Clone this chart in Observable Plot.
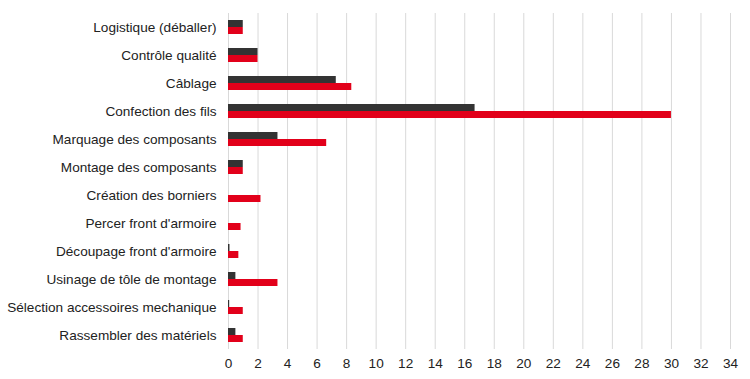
<!DOCTYPE html>
<html>
<head>
<meta charset="utf-8">
<script src="https://cdn.jsdelivr.net/npm/d3@7"></script>
<script src="https://cdn.jsdelivr.net/npm/@observablehq/plot@0.6"></script>
<style>
  html, body { margin: 0; padding: 0; background: #fff; }
  #chart svg { display: block; }
</style>
</head>
<body>
<div id="chart"></div>
<script>
const categories = [
  "Logistique (déballer)",
  "Contrôle qualité",
  "Câblage",
  "Confection des fils",
  "Marquage des composants",
  "Montage des composants",
  "Création des borniers",
  "Percer front d'armoire",
  "Découpage front d'armoire",
  "Usinage de tôle de montage",
  "Sélection accessoires mechanique",
  "Rassembler des matériels"
];
const seriesDark = [1, 2, 7.3, 16.7, 3.35, 1, 0, 0, 0.1, 0.5, 0.08, 0.5];
const seriesRed  = [1, 2, 8.35, 30, 6.65, 1, 2.2, 0.85, 0.7, 3.35, 1, 1];
const xTicks = [0, 2, 4, 6, 8, 10, 12, 14, 16, 18, 20, 22, 24, 26, 28, 30, 32, 34];

const darkData = categories.map((c, i) => ({category: c, value: seriesDark[i]}));
const redData = categories.map((c, i) => ({category: c, value: seriesRed[i]}));

const chart = Plot.plot({
  width: 750,
  height: 379,
  marginLeft: 228,
  marginRight: 20,
  marginTop: 13,
  marginBottom: 30,
  style: {fontFamily: "'Liberation Sans', Arial, sans-serif", fontSize: "13.6px", color: "#222"},
  x: {domain: [0, 34]},
  y: {domain: categories, padding: 0},
  marks: [
    Plot.gridX(xTicks, {stroke: "#d9d9d9", strokeOpacity: 1, strokeWidth: 1}),
    Plot.barX(darkData, {y: "category", x: "value", fill: "#333333", insetTop: 7, insetBottom: 14}),
    Plot.barX(redData, {y: "category", x: "value", fill: "#e2001a", insetTop: 14, insetBottom: 7}),
    Plot.axisX(xTicks, {tickSize: 0, tickPadding: 9, label: null, fontSize: 13.6, fill: "#222"}),
    Plot.axisY({tickSize: 0, tickPadding: 12, label: null, fontSize: 13.6, fill: "#222"})
  ]
});
document.getElementById("chart").appendChild(chart);
</script>
</body>
</html>
